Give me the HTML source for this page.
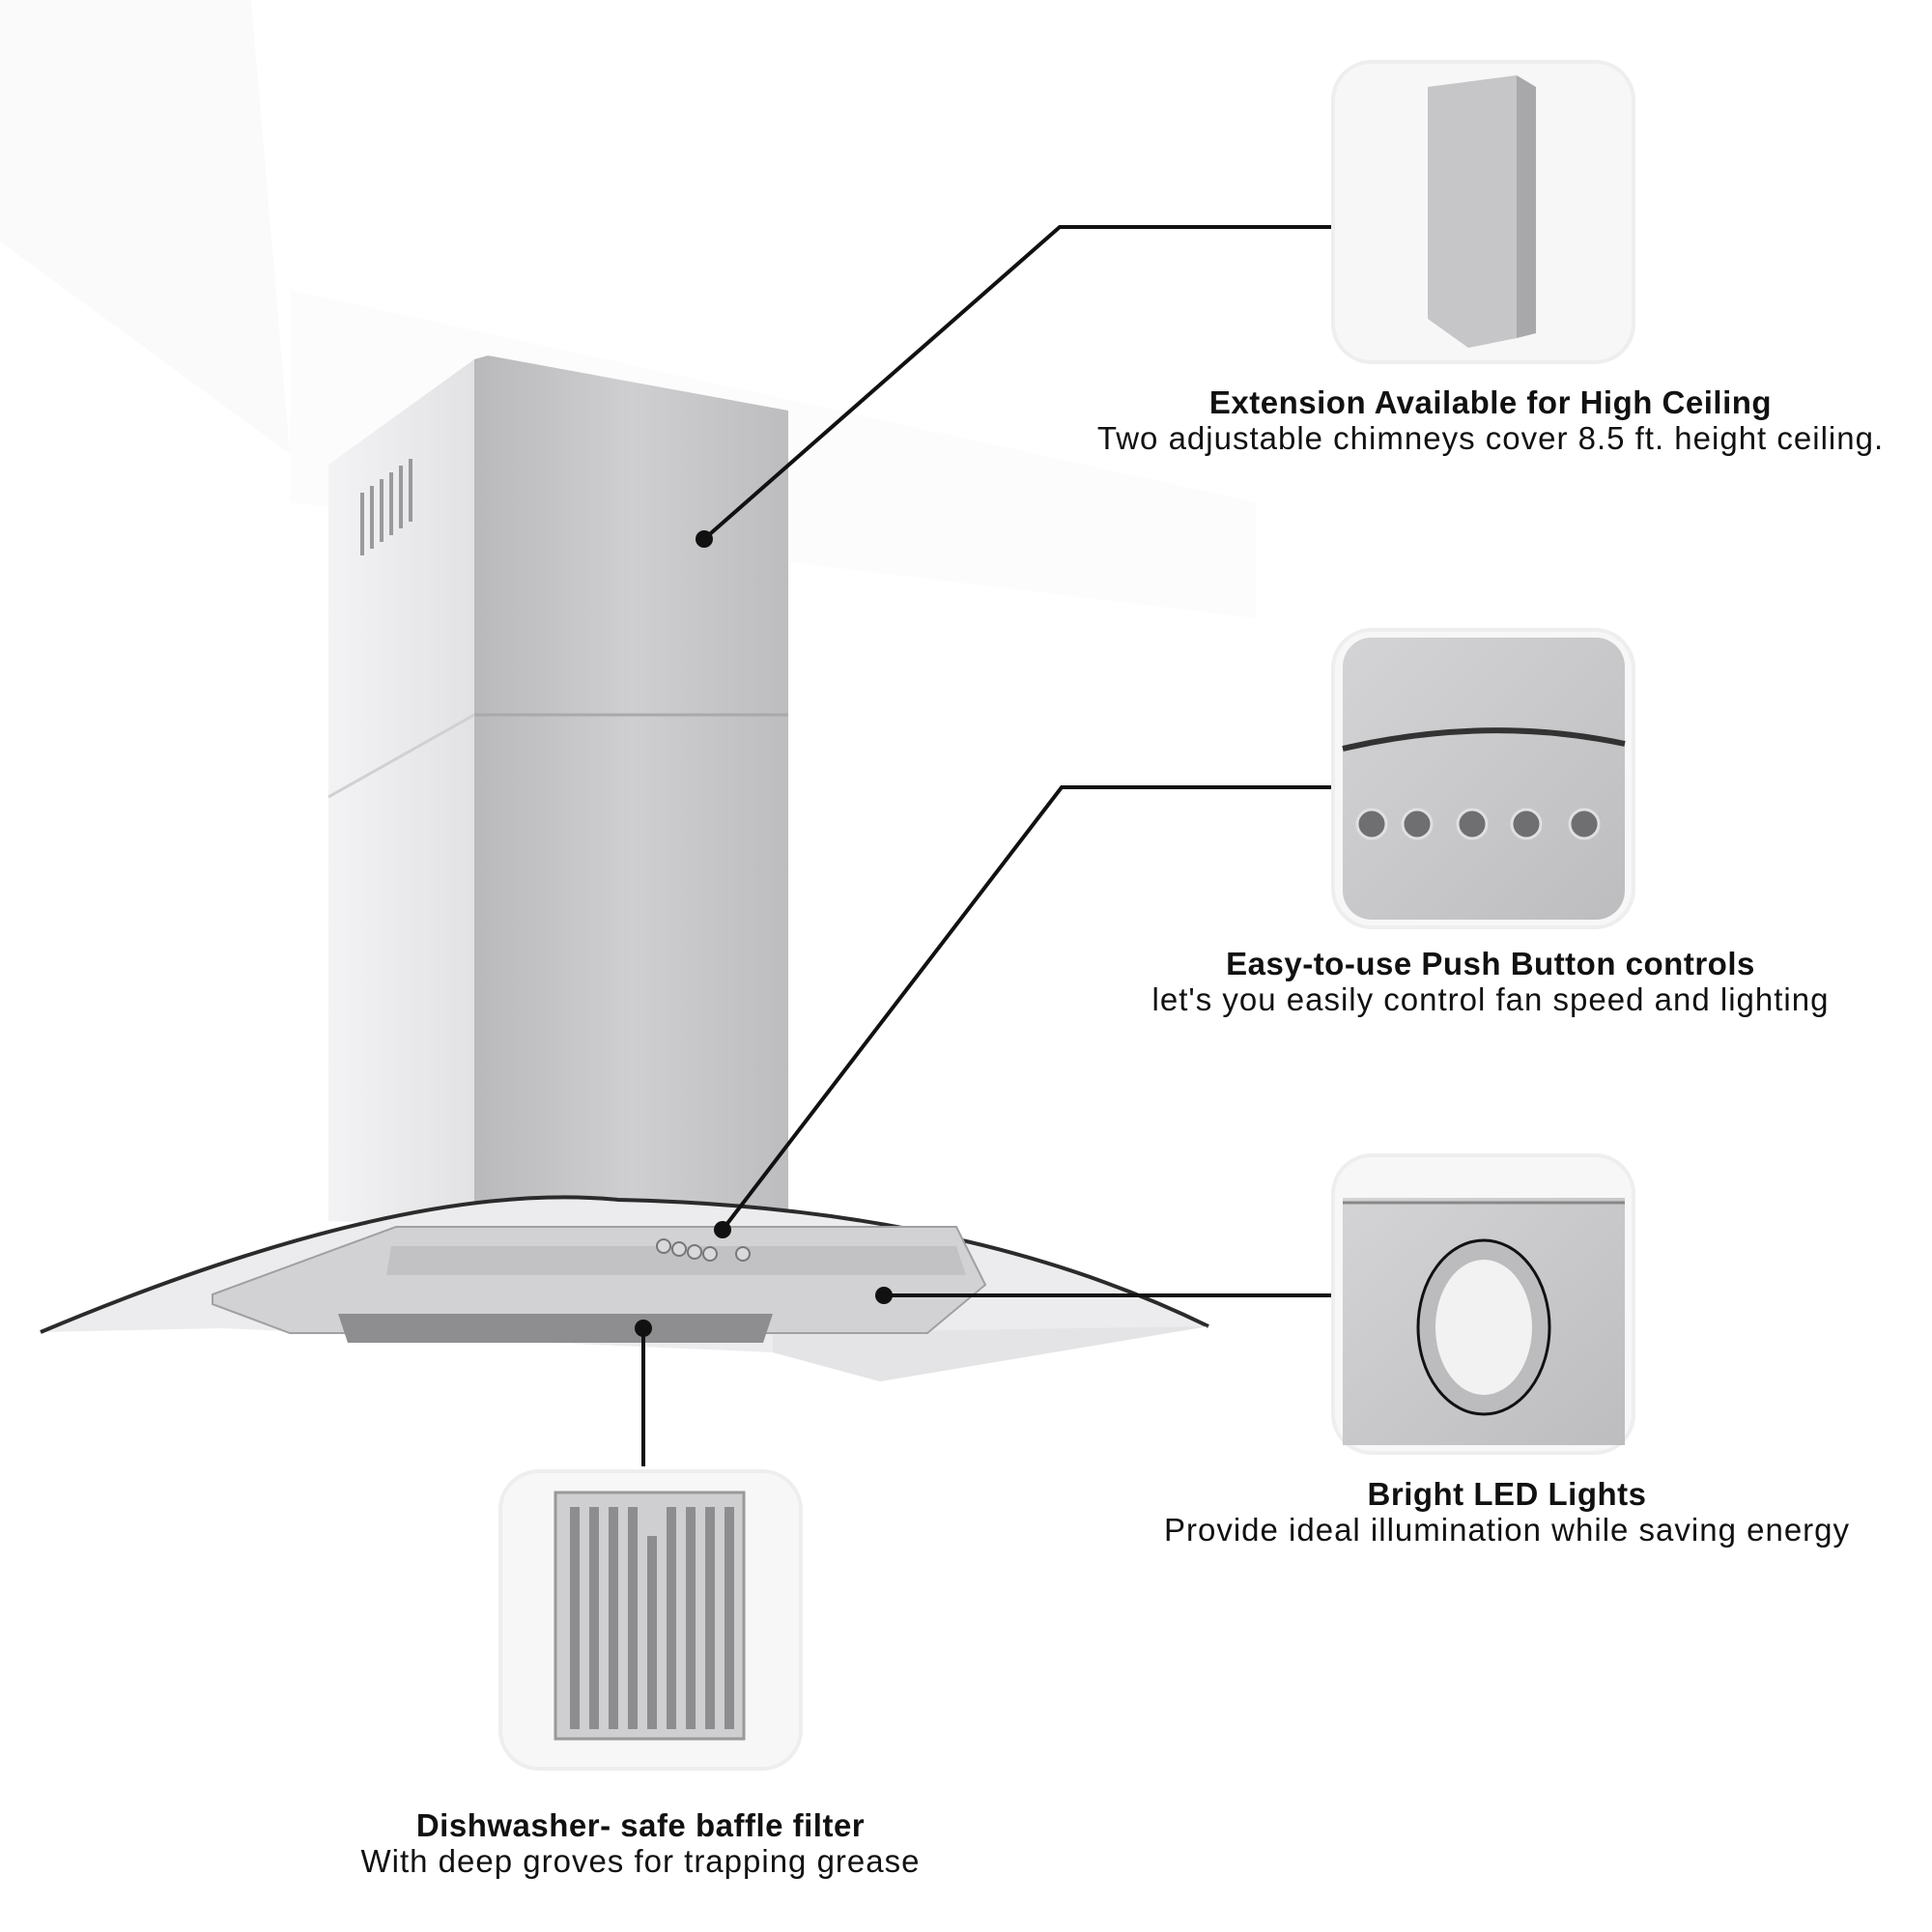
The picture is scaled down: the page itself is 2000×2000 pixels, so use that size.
<!DOCTYPE html>
<html><head><meta charset="utf-8"><style>
html,body{margin:0;padding:0;background:#fff;}
body{width:2000px;height:2000px;position:relative;overflow:hidden;font-family:"Liberation Sans","DejaVu Sans",sans-serif;}
.t{position:absolute;text-align:center;color:#111;font-size:33px;line-height:37px;white-space:nowrap;transform:translateX(-50%);letter-spacing:1px;}
.t b{display:block;font-size:33px;letter-spacing:0.5px;}
</style></head><body>
<svg width="2000" height="2000" style="position:absolute;left:0;top:0">
<defs>
<linearGradient id="front" x1="0" x2="1"><stop offset="0" stop-color="#b9b9bb"/><stop offset="0.5" stop-color="#cfcfd1"/><stop offset="1" stop-color="#bdbdbf"/></linearGradient>
<linearGradient id="side" x1="0" x2="1"><stop offset="0" stop-color="#f3f3f5"/><stop offset="1" stop-color="#e2e2e4"/></linearGradient>
<linearGradient id="card" x1="0" y1="0" x2="1" y2="1"><stop offset="0" stop-color="#d4d4d6"/><stop offset="1" stop-color="#bdbdbf"/></linearGradient>
</defs>
<path d="M0 0 L260 0 L300 470 L0 250Z" fill="#fafafa"/>
<path d="M300 300 L1300 520 L1300 640 L300 520Z" fill="#fcfcfc"/>
<path d="M340 481 L491 372 L491 1270 L340 1264Z" fill="url(#side)"/>
<path d="M491 372 L505 368 L816 425 L816 1270 L491 1270Z" fill="url(#front)"/>
<path d="M491 740 L816 740" stroke="#a9a9ab" stroke-width="3"/>
<path d="M340 825 L491 740" stroke="#d0d0d2" stroke-width="3"/>
<g stroke="#9a9a9c" stroke-width="4">
<line x1="375" y1="510" x2="375" y2="575"/><line x1="385" y1="503" x2="385" y2="568"/><line x1="395" y1="496" x2="395" y2="561"/><line x1="405" y1="489" x2="405" y2="554"/><line x1="415" y1="482" x2="415" y2="547"/><line x1="425" y1="475" x2="425" y2="540"/>
</g>
<path d="M42 1379 Q420 1220 640 1242 Q1000 1250 1251 1373 L911 1430 L800 1400 L230 1375 Z" fill="#ececee"/>
<path d="M42 1379 Q420 1220 640 1242 Q1000 1250 1251 1373" fill="none" stroke="#2b2b2b" stroke-width="4"/>
<path d="M800 1380 L1251 1373 L911 1430 L800 1400Z" fill="#e4e4e6"/>
<path d="M220 1340 L410 1270 L990 1270 L1020 1330 L960 1380 L300 1380 L220 1350Z" fill="#d2d2d4" stroke="#a0a0a2" stroke-width="2"/>
<path d="M405 1290 L990 1290 L1000 1320 L400 1320Z" fill="#c2c2c4"/>
<path d="M350 1360 L800 1360 L790 1390 L360 1390Z" fill="#8e8e90"/>
<g fill="#d9d9db" stroke="#777" stroke-width="2">
<circle cx="687" cy="1290" r="7"/><circle cx="703" cy="1293" r="7"/><circle cx="719" cy="1296" r="7"/><circle cx="735" cy="1298" r="7"/><circle cx="769" cy="1298" r="7"/>
</g>
<g stroke="#111" stroke-width="4" fill="none">
<polyline points="729,558 1097,235 1379,235"/>
<polyline points="748,1273 1099,815 1379,815"/>
<polyline points="915,1341 1379,1341"/>
<polyline points="666,1375 666,1518"/>
</g>
<g fill="#111"><circle cx="729" cy="558" r="9"/><circle cx="748" cy="1273" r="9"/><circle cx="915" cy="1341" r="9"/><circle cx="666" cy="1375" r="9"/></g>
<g fill="#f7f7f7" stroke="#eeeeee" stroke-width="4">
<rect x="1380" y="64" width="311" height="311" rx="40"/>
<rect x="1380" y="652" width="311" height="308" rx="40"/>
<rect x="1380" y="1196" width="311" height="308" rx="40"/>
<rect x="518" y="1523" width="311" height="308" rx="40"/>
</g>
<path d="M1478 90 L1570 78 L1570 350 L1520 360 L1478 330Z" fill="#c6c6c8"/>
<path d="M1570 78 L1590 90 L1590 345 L1570 350Z" fill="#a8a8aa"/>
<rect x="1390" y="660" width="292" height="292" rx="30" fill="url(#card)"/>
<path d="M1390 775 Q1540 740 1682 770" stroke="#333" stroke-width="6" fill="none"/>
<g fill="#6f6f72" stroke="#e0e0e0" stroke-width="3">
<circle cx="1420" cy="853" r="15"/><circle cx="1467" cy="853" r="15"/><circle cx="1524" cy="853" r="15"/><circle cx="1580" cy="853" r="15"/><circle cx="1640" cy="853" r="15"/>
</g>
<rect x="1390" y="1240" width="292" height="256" fill="url(#card)"/>
<line x1="1390" y1="1245" x2="1682" y2="1245" stroke="#888" stroke-width="3"/>
<ellipse cx="1536" cy="1374" rx="68" ry="90" fill="#bcbcbe" stroke="#111" stroke-width="3"/>
<ellipse cx="1536" cy="1374" rx="50" ry="70" fill="#f2f2f2"/>
<rect x="575" y="1545" width="195" height="255" fill="#cfcfd1" stroke="#999" stroke-width="3"/>
<g fill="#8d8d90">
<rect x="590" y="1560" width="10" height="230"/><rect x="610" y="1560" width="10" height="230"/><rect x="630" y="1560" width="10" height="230"/><rect x="650" y="1560" width="10" height="230"/><rect x="670" y="1590" width="10" height="200"/><rect x="690" y="1560" width="10" height="230"/><rect x="710" y="1560" width="10" height="230"/><rect x="730" y="1560" width="10" height="230"/><rect x="750" y="1560" width="10" height="230"/>
</g>
</svg>
<div class="t" style="left:1543px;top:398px"><b>Extension Available for High Ceiling</b>Two adjustable chimneys cover 8.5 ft. height ceiling.</div>
<div class="t" style="left:1543px;top:979px"><b>Easy-to-use Push Button controls</b>let's you easily control fan speed and lighting</div>
<div class="t" style="left:1560px;top:1528px"><b>Bright LED Lights</b>Provide ideal illumination while saving energy</div>
<div class="t" style="left:663px;top:1871px"><b>Dishwasher- safe baffle filter</b>With deep groves for trapping grease</div>
</body></html>
